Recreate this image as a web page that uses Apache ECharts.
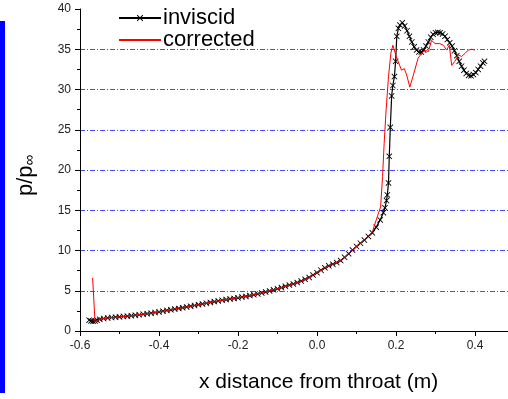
<!DOCTYPE html>
<html>
<head>
<meta charset="utf-8">
<script src="https://cdn.jsdelivr.net/npm/echarts@6/dist/echarts.min.js"></script>
<style>html,body{margin:0;padding:0;background:#fff;overflow:hidden;width:508px;height:399px}#c{width:560px;height:399px}</style>
</head>
<body>
<div id="c"></div>
<script>
// ---- data ----
const invX = [-0.577,-0.572,-0.567,-0.562,-0.557,-0.55,-0.54,-0.53,-0.52,-0.51,-0.50,-0.49,-0.48,-0.47,-0.46,-0.45,-0.44,-0.43,-0.42,-0.41,-0.40,-0.39,-0.38,-0.37,-0.36,-0.35,-0.34,-0.33,-0.32,-0.31,-0.30,-0.29,-0.28,-0.27,-0.26,-0.25,-0.24,-0.23,-0.22,-0.21,-0.20,-0.19,-0.18,-0.17,-0.16,-0.15,-0.14,-0.13,-0.12,-0.11,-0.10,-0.09,-0.08,-0.07,-0.06,-0.05,-0.04,-0.03,-0.02,-0.01,0.00,0.01,0.02,0.03,0.04,0.05,0.06,0.07,0.08,0.09,0.10,0.11,0.12,0.13,0.14,0.15,0.16,0.168,0.172,0.176,0.178,0.181,0.183,0.1856,0.189,0.192,0.196,0.199,0.202,0.206,0.21,0.216,0.222,0.228,0.234,0.24,0.246,0.252,0.258,0.264,0.27,0.276,0.282,0.288,0.294,0.30,0.306,0.312,0.318,0.324,0.33,0.336,0.342,0.348,0.354,0.36,0.366,0.372,0.378,0.384,0.39,0.396,0.402,0.408,0.414,0.42,0.424];
const invY = [1.35,1.25,1.2,1.25,1.35,1.45,1.55,1.62,1.68,1.72,1.76,1.8,1.84,1.9,1.96,2.02,2.08,2.15,2.22,2.3,2.37,2.46,2.55,2.63,2.72,2.81,2.9,2.99,3.08,3.17,3.27,3.36,3.45,3.55,3.65,3.73,3.82,3.9,3.98,4.05,4.12,4.21,4.3,4.4,4.5,4.61,4.72,4.85,4.98,5.11,5.25,5.4,5.55,5.7,5.85,6.02,6.2,6.42,6.65,6.95,7.25,7.55,7.85,8.1,8.3,8.5,8.75,9.15,9.6,10.05,10.5,10.9,11.3,11.75,12.2,12.9,13.8,14.7,15.3,16.2,16.9,18.4,21.7,25.3,29.2,30.5,31.6,33.5,36.6,37.6,38.0,38.3,37.9,37.3,36.6,35.9,35.3,34.9,34.65,34.65,34.9,35.4,35.9,36.5,36.85,37.05,37.1,37.05,36.9,36.6,36.2,35.8,35.4,34.8,34.2,33.5,32.9,32.4,32.0,31.75,31.7,31.85,32.1,32.5,32.9,33.3,33.5];
const corX = [-0.568,-0.562,-0.55,-0.53,-0.50,-0.46,-0.42,-0.38,-0.34,-0.30,-0.26,-0.22,-0.18,-0.14,-0.10,-0.06,-0.04,-0.02,0.00,0.02,0.04,0.06,0.08,0.10,0.12,0.14,0.154,0.161,0.166,0.170,0.175,0.181,0.187,0.192,0.195,0.202,0.214,0.221,0.227,0.235,0.244,0.256,0.265,0.273,0.282,0.29,0.299,0.311,0.32,0.328,0.335,0.341,0.349,0.358,0.366,0.375,0.383,0.392,0.40];
const corY = [6.6,1.15,1.45,1.62,1.76,1.96,2.22,2.55,2.9,3.27,3.65,3.98,4.3,4.72,5.25,5.85,6.2,6.65,7.25,7.85,8.3,8.75,9.6,10.5,11.3,12.3,14.4,15.4,19.2,23.3,27.5,31.6,34.5,35.5,35.5,33.9,32.4,32.6,31.8,30.3,31.8,33.9,34.5,34.9,34.7,36.1,35.7,35.7,35.5,34.9,35.5,33.0,33.5,34.3,34.1,34.5,34.9,35.0,34.9];
const seriesNames = ['inviscid', 'corrected'];
const xTickValues = [-0.6, -0.4, -0.2, 0.0, 0.2, 0.4];
const yTickValues = [0, 5, 10, 15, 20, 25, 30, 35, 40];
const xTitle = 'x distance from throat (m)';
const yTitle = 'p/p';
const ySub = '∞';

const zip = (xs, ys) => xs.map((x, i) => [x, ys[i]]);
const crossPath = 'path://M0,1L1,0L5,4L9,0L10,1L6,5L10,9L9,10L5,6L1,10L0,9L4,5Z';
const font = 'Liberation Sans, Arial, sans-serif';

const chart = echarts.init(document.getElementById('c'), null, {renderer: 'canvas'});
chart.setOption({
  animation: false,
  backgroundColor: '#fff',
  grid: {left: 80, top: 9, bottom: 68, right: 6, containLabel: false},
  legend: {
    orient: 'vertical', left: 118, top: 7, padding: 0, itemGap: 0,
    itemWidth: 42, itemHeight: 8,
    data: [{name: seriesNames[0]}, {name: seriesNames[1], itemStyle: {opacity: 0}}],
    textStyle: {fontFamily: font, fontSize: 22, color: '#000', lineHeight: 20, padding: [0, 0, 0, -3]}
  },
  xAxis: {
    type: 'value', min: -0.6, max: 0.6, interval: 0.2,
    axisLine: {show: true, onZero: false, lineStyle: {color: '#000', width: 1}},
    axisTick: {show: true, inside: false, length: 5, lineStyle: {color: '#000'}},
    minorTick: {show: true, splitNumber: 2, length: 3, lineStyle: {color: '#000'}},
    splitLine: {show: false},
    axisLabel: {
      margin: 9, fontFamily: font, fontSize: 12, color: '#222',
      formatter: v => (xTickValues.some(t => Math.abs(t - v) < 1e-9) ? v.toFixed(1) : '')
    }
  },
  yAxis: {
    type: 'value', min: 0, max: 40, interval: 5,
    axisLine: {show: true, onZero: false, lineStyle: {color: '#000', width: 1}},
    axisTick: {show: true, inside: false, length: 5, lineStyle: {color: '#000'}},
    minorTick: {show: true, splitNumber: 2, length: 3, lineStyle: {color: '#000'}},
    splitLine: {
      show: true, showMinLine: false, showMaxLine: false,
      lineStyle: {color: '#4848ff', width: 1, type: [5, 2, 1, 2]}
    },
    axisLabel: {
      margin: 9, fontFamily: font, fontSize: 12, color: '#222',
      formatter: v => (yTickValues.includes(v) ? String(v) : '')
    }
  },
  series: [
    {
      name: seriesNames[0], type: 'line', data: zip(invX, invY),
      symbol: crossPath, symbolSize: 6, showSymbol: true,
      lineStyle: {color: '#000', width: 1.2},
      itemStyle: {color: '#000'},
      z: 2
    },
    {
      name: seriesNames[1], type: 'line', data: zip(corX, corY),
      symbol: 'none', showSymbol: false,
      lineStyle: {color: '#ff0000', width: 1},
      itemStyle: {color: '#ff0000'},
      z: 3
    }
  ],
  graphic: [
    {type: 'rect', left: 0, top: 21, shape: {width: 5, height: 372}, style: {fill: '#0000ff'}, silent: true},
    {type: 'text', left: 199, top: 372, style: {text: xTitle, font: '21px ' + font, fill: '#000'}},
    {
      type: 'text', x: 14, y: 196, rotation: Math.PI / 2,
      style: {
        text: '{a|' + yTitle + '}{b|' + ySub + '}',
        rich: {
          a: {fontFamily: font, fontSize: 22, fill: '#000', color: '#000'},
          b: {fontFamily: font, fontSize: 15, fill: '#000', color: '#000', padding: [8, 0, 0, 0]}
        }
      }
    }
  ]
});
</script>
</body>
</html>
